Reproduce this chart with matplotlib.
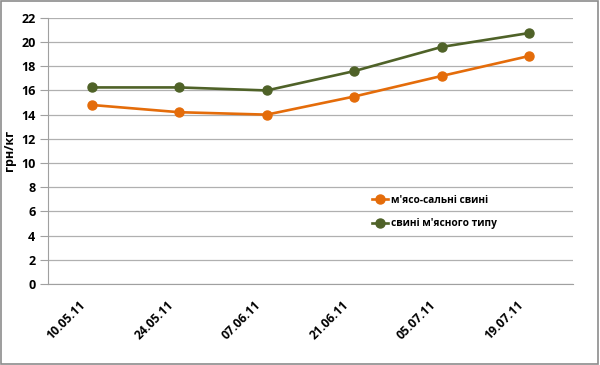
import matplotlib
matplotlib.use('Agg')
import matplotlib.pyplot as plt
import matplotlib.transforms as mtransforms
from matplotlib.patches import Rectangle

dates = ['10.05.11', '24.05.11', '07.06.11', '21.06.11', '05.07.11', '19.07.11']
meat_fat = [14.8, 14.2, 14.0, 15.5, 17.2, 18.85]
meat_type = [16.25, 16.25, 16.0, 17.6, 19.6, 20.75]

plt.rcParams['font.family'] = ['Open Sans', 'DejaVu Sans']
plt.rcParams['font.weight'] = 'bold'

fig = plt.figure(figsize=(6, 3.65), dpi=100)
ax = fig.add_axes([0.08, 0.222, 0.875, 0.729])

x = range(len(dates))
ax.plot(x, meat_fat, color='#E46C0A', lw=1.9, marker='o', ms=6.5,
        label="м'ясо-сальні свині")
ax.plot(x, meat_type, color='#4F6228', lw=1.9, marker='o', ms=6.5,
        label="свині м'ясного типу")

ax.set_xlim(-0.5, len(dates) - 0.5)
ax.set_ylim(0, 22)
ax.set_yticks(range(0, 23, 2))
ax.set_xticks(list(x))
ax.set_xticklabels([])
# rotated date labels, shifted down-left like in Excel
offset = mtransforms.ScaledTranslation(-0.08, -0.19, fig.dpi_scale_trans)
for i, d in enumerate(dates):
    ax.text(i, 0, d, transform=ax.get_xaxis_transform() + offset,
            rotation=45, ha='right', va='center', rotation_mode='anchor',
            fontsize=8.7, fontweight='bold')
ax.tick_params(axis='y', labelsize=9, length=6, color='#a0a0a0', pad=3)
ax.tick_params(axis='x', length=0)
for lab in ax.get_yticklabels():
    lab.set_fontweight('bold')
ax.grid(axis='y', color='#b0b0b0', lw=0.9)
ax.set_axisbelow(True)
for s in ['top', 'right']:
    ax.spines[s].set_visible(False)
ax.spines['left'].set_color('#a0a0a0')
ax.spines['bottom'].set_color('#a0a0a0')
ax.set_ylabel('грн/кг', fontsize=9, fontweight='bold', labelpad=4)

leg = ax.legend(loc='upper left', bbox_to_anchor=(0.6, 0.37), frameon=False,
                fontsize=7.3, handlelength=1.6, labelspacing=1.25,
                handletextpad=0.3)
for t in leg.get_texts():
    t.set_fontweight('bold')

fig.patches.append(Rectangle((0.002, 0.003), 0.995, 0.993,
                             transform=fig.transFigure, fill=False,
                             edgecolor='#8c8c8c', lw=1.2))

fig.savefig('out.png', dpi=100)
